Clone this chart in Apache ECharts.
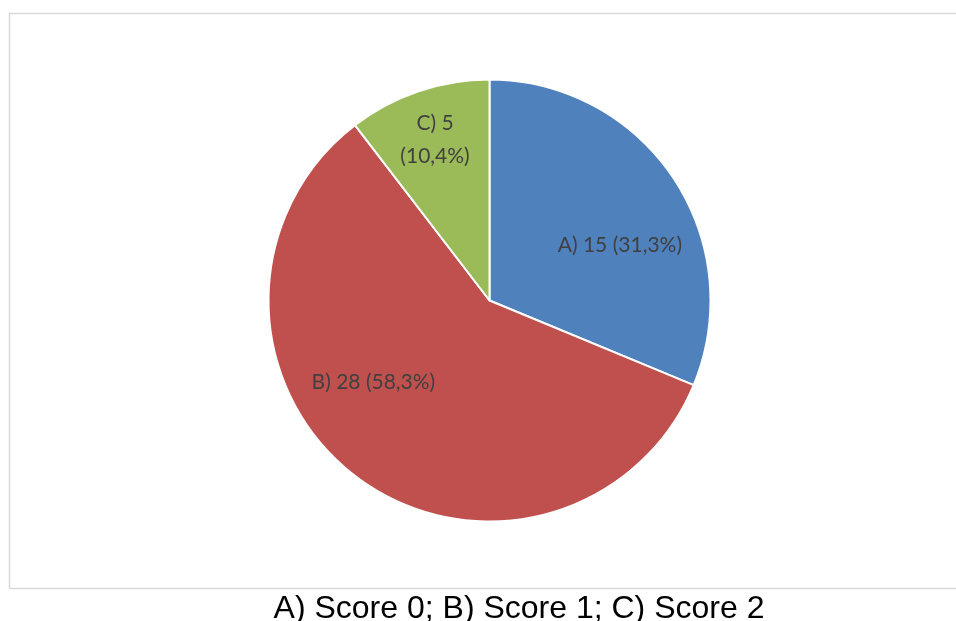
<!DOCTYPE html>
<html>
<head>
<meta charset="utf-8">
<script src="https://cdn.jsdelivr.net/npm/echarts@6/dist/echarts.min.js"></script>
<style>
  html, body { margin: 0; padding: 0; background: #fff; }
  #chart { width: 956px; height: 621px; }
</style>
</head>
<body>
<div id="chart"></div>
<script>
const categories = ["A", "B", "C"];
const values = [15, 28, 5];
const percents = ["31,3%", "58,3%", "10,4%"];
const caption = "A) Score 0; B) Score 1; C) Score 2";

const colors = ["#4f81bd", "#c0504d", "#9bbb59"];
// nudge the inside labels toward where the original places them
const labelOffsets = [[36, 8], [-47, -8], [-18, -53]];

const chart = echarts.init(document.getElementById("chart"));

chart.setOption({
  animation: false,
  graphic: [
    {
      type: "rect",
      shape: { x: 9.5, y: 13.5, width: 960, height: 575 },
      style: { fill: "none", stroke: "#d9d9d9", lineWidth: 1.5 },
      silent: true,
    },
    {
      type: "text",
      x: 519,
      y: 625,
      style: {
        text: caption,
        font: "32px 'Liberation Sans', Arial, sans-serif",
        fill: "#000",
        textAlign: "center",
        textVerticalAlign: "bottom",
      },
    },
  ],
  series: [
    {
      type: "pie",
      center: [489.5, 300.5],
      radius: 221,
      startAngle: 90,
      clockwise: true,
      avoidLabelOverlap: false,
      itemStyle: { borderColor: "#fff", borderWidth: 2 },
      label: {
        show: true,
        position: "inside",
        color: "#404040",
        fontSize: 21,
        fontFamily: "Lato, 'Open Sans', sans-serif",
        lineHeight: 33,
      },
      data: categories.map((c, i) => ({
        name: c,
        value: values[i],
        itemStyle: { color: colors[i] },
        label: {
          offset: labelOffsets[i],
          formatter: i === 2
            ? c + ") " + values[i] + "\n(" + percents[i] + ")"
            : c + ") " + values[i] + " (" + percents[i] + ")",
        },
      })),
    },
  ],
});
</script>
</body>
</html>
